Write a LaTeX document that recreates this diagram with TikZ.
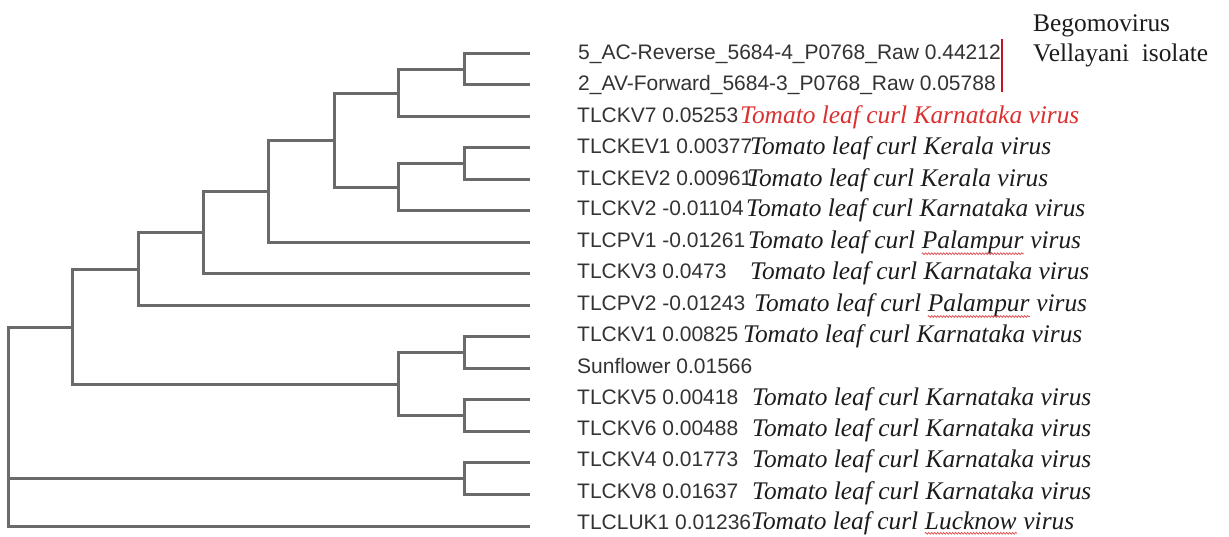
\documentclass[tikz,border=0pt]{standalone}
\usepackage{fontspec}
\setmainfont{Liberation Serif}
\newfontfamily\labelfont{Liberation Sans}
\usetikzlibrary{decorations.pathmorphing}

\definecolor{treegray}{HTML}{6A6A6A}
\definecolor{labelgray}{HTML}{333333}
\definecolor{speciesblack}{HTML}{1C1C1C}
\definecolor{speciesred}{HTML}{DC2F2F}
\definecolor{barred}{HTML}{C0141E}
\definecolor{spellred}{HTML}{E04848}

\tikzset{
  branch/.style={draw=treegray, line width=3pt, line cap=rect, line join=miter},
  taxon/.style={anchor=base west, inner sep=0pt, text=labelgray,
    font=\labelfont\fontsize{21}{24}\selectfont},
  species/.style={anchor=base west, inner sep=0pt, text=speciesblack,
    font=\itshape\fontsize{25.4}{30}\selectfont},
  groupnote/.style={anchor=base west, inner sep=0pt, text=speciesblack,
    font=\fontsize{25.4}{30}\selectfont},
  squiggle/.style={draw=spellred, line width=0.7pt, decorate,
    decoration={snake, amplitude=0.9pt, segment length=3pt}},
  groupbar/.style={draw=barred, line width=2.4pt},
}

% elbow branches from junction #1 to its two children #2 and #3
\newcommand\cladejoin[3]{\draw[branch] (#1) |- (#2) (#1) |- (#3);}

\begin{document}
\begin{tikzpicture}[x=1pt, y=-1pt]
\fill[white] (0,0) rectangle (1229,536);
\useasboundingbox (0,0) rectangle (1229,536);

% ---- leaf tips ----
\coordinate (l0)  at (528,53.5);
\coordinate (l1)  at (528,84.5);
\coordinate (l2)  at (528,116.5);
\coordinate (l3)  at (528,147.5);
\coordinate (l4)  at (528,179.5);
\coordinate (l5)  at (528,210.5);
\coordinate (l6)  at (528,242.5);
\coordinate (l7)  at (528,273.5);
\coordinate (l8)  at (528,305.5);
\coordinate (l9)  at (528,336.5);
\coordinate (l10) at (528,368.5);
\coordinate (l11) at (528,399.5);
\coordinate (l12) at (528,431.5);
\coordinate (l13) at (528,462.5);
\coordinate (l14) at (528,494.5);
\coordinate (l15) at (528,526.5);

% ---- internal junctions ----
\coordinate (nA) at (464.5,69.5);
\coordinate (nB) at (398.5,93.5);
\coordinate (nC) at (464.5,163.5);
\coordinate (nD) at (398.5,187.5);
\coordinate (nE) at (334.5,140.5);
\coordinate (nF) at (268.5,191.5);
\coordinate (nG) at (203.5,232.5);
\coordinate (nH) at (138.5,269.5);
\coordinate (nK) at (464.5,352.5);
\coordinate (nM) at (464.5,415.5);
\coordinate (nJ) at (398.5,384.5);
\coordinate (nI) at (72.5,327.5);
\coordinate (nL) at (464.5,478.5);
\coordinate (root) at (8.5,327.5);

% ---- tree ----
\cladejoin{nA}{l0}{l1}
\cladejoin{nB}{nA}{l2}
\cladejoin{nC}{l3}{l4}
\cladejoin{nD}{nC}{l5}
\cladejoin{nE}{nB}{nD}
\cladejoin{nF}{nE}{l6}
\cladejoin{nG}{nF}{l7}
\cladejoin{nH}{nG}{l8}
\cladejoin{nK}{l9}{l10}
\cladejoin{nM}{l11}{l12}
\cladejoin{nJ}{nK}{nM}
\cladejoin{nI}{nH}{nJ}
\cladejoin{nL}{l13}{l14}
\draw[branch] (root) -- (nI) (root) |- (nL) (root) |- (l15);

% ---- taxon labels ----
\node[taxon] (t0)  at (578,59.5)  {5\_AC-Reverse\_5684-4\_P0768\_Raw 0.44212};
\node[taxon] (t1)  at (578,90.4)  {2\_AV-Forward\_5684-3\_P0768\_Raw 0.05788};
\node[taxon] (t2)  at (577,122.2) {TLCKV7 0.05253};
\node[taxon] (t3)  at (577,153.1) {TLCKEV1 0.00377};
\node[taxon] (t4)  at (577,185.0) {TLCKEV2 0.00961};
\node[taxon] (t5)  at (577,215.9) {TLCKV2 -0.01104};
\node[taxon] (t6)  at (577,247.7) {TLCPV1 -0.01261};
\node[taxon] (t7)  at (577,278.6) {TLCKV3 0.0473};
\node[taxon] (t8)  at (577,310.5) {TLCPV2 -0.01243};
\node[taxon] (t9)  at (577,341.3) {TLCKV1 0.00825};
\node[taxon] (t10) at (577,373.2) {Sunflower 0.01566};
\node[taxon] (t11) at (577,404.1) {TLCKV5 0.00418};
\node[taxon] (t12) at (577,435.9) {TLCKV6 0.00488};
\node[taxon] (t13) at (577,466.8) {TLCKV4 0.01773};
\node[taxon] (t14) at (577,498.7) {TLCKV8 0.01637};
\node[taxon] (t15) at (577,529.6) {TLCLUK1 0.01236};

% ---- species names ----
\node[species, text=speciesred] (s2) at (740,123.2) {Tomato leaf curl Karnataka virus};
\node[species] (s3)  at (750,154.1) {Tomato leaf curl Kerala virus};
\node[species] (s4)  at (747,186.0) {Tomato leaf curl Kerala virus};
\node[species] (s5)  at (746,216.9) {Tomato leaf curl Karnataka virus};
\node[species] (s6a) at (748,248.7) {Tomato leaf curl};
\node[species] (s6b) at ([xshift=6.35pt]s6a.base east) {Palampur};
\node[species] (s6c) at ([xshift=6.35pt]s6b.base east) {virus};
\node[species] (s7)  at (750,279.6) {Tomato leaf curl Karnataka virus};
\node[species] (s8a) at (754,311.5) {Tomato leaf curl};
\node[species] (s8b) at ([xshift=6.35pt]s8a.base east) {Palampur};
\node[species] (s8c) at ([xshift=6.35pt]s8b.base east) {virus};
\node[species] (s9)  at (743,342.3) {Tomato leaf curl Karnataka virus};
\node[species] (s11) at (752,405.1) {Tomato leaf curl Karnataka virus};
\node[species] (s12) at (752,436.9) {Tomato leaf curl Karnataka virus};
\node[species] (s13) at (752,467.8) {Tomato leaf curl Karnataka virus};
\node[species] (s14) at (752,499.7) {Tomato leaf curl Karnataka virus};
\node[species] (s15a) at (751,529.8) {Tomato leaf curl};
\node[species] (s15b) at ([xshift=6.35pt]s15a.base east) {Lucknow};
\node[species] (s15c) at ([xshift=6.35pt]s15b.base east) {virus};

% spelling marks under place names
\draw[squiggle] ([yshift=-5pt]s6b.base west) -- ([yshift=-5pt]s6b.base east);
\draw[squiggle] ([yshift=-5pt]s8b.base west) -- ([yshift=-5pt]s8b.base east);
\draw[squiggle] ([yshift=-3.5pt]s15b.base west) -- ([yshift=-3.5pt]s15b.base east);

% ---- isolate bracket and note ----
\coordinate (bartop) at (1002,39);
\coordinate (barbot) at (1002,92);
\draw[groupbar] (bartop) -- (barbot);
\node[groupnote] (g1) at (1033,31) {Begomovirus};
\node[groupnote] (g2) at (1033,61) {Vellayani\hspace{0.5em}isolate};
\end{tikzpicture}
\end{document}
